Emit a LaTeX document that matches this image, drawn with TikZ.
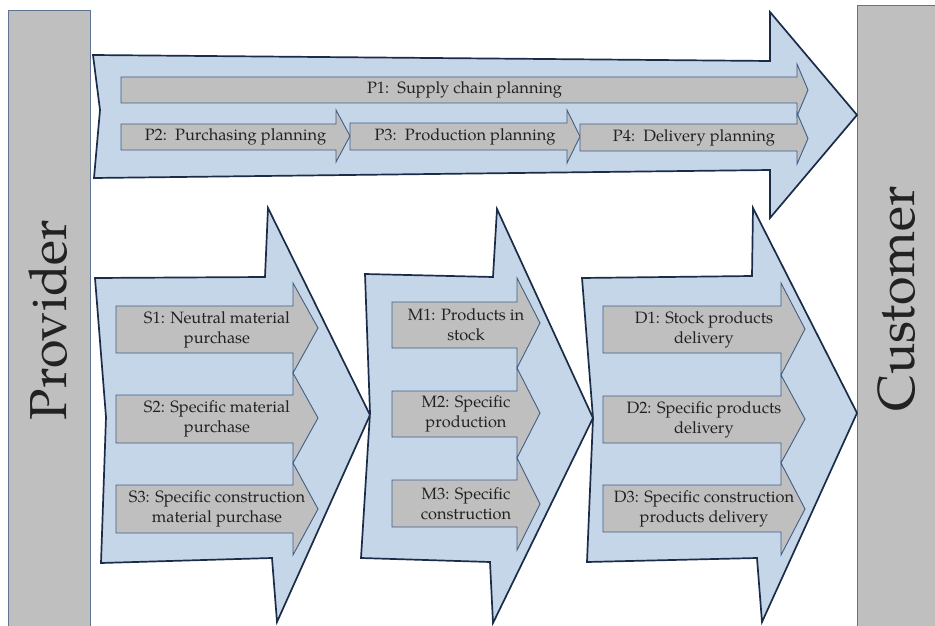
\documentclass[tikz,border=0pt]{standalone}
\usepackage{fontspec}
\setmainfont{TeX Gyre Pagella}

\definecolor{flowfill}{RGB}{198,214,233}
\definecolor{flowedge}{RGB}{26,44,72}
\definecolor{stepfill}{RGB}{191,191,191}
\definecolor{stepedge}{RGB}{66,94,132}
\definecolor{barfill}{RGB}{191,191,191}
\definecolor{baredge}{RGB}{96,116,146}
\definecolor{inktext}{RGB}{34,34,34}

\tikzset{
  flow/.style={fill=flowfill, draw=flowedge, line width=1.7pt, line join=miter},
  stepshape/.style={fill=stepfill, draw=stepedge, line width=0.9pt, line join=miter},
  steptext/.style={font=\fontsize{16.4}{20}\selectfont, align=center, text=inktext, inner sep=0pt},
  bar/.style={fill=barfill, draw=baredge, line width=0.8pt},
  bartext/.style={font=\fontsize{52}{56}\selectfont, rotate=90, text=inktext, inner sep=0pt},
}

% #1 name, #2 left x, #3 head base x, #4 tip x,
% #5 body top y, #6 body bottom y, #7 head top y, #8 head bottom y, #9 label
\newcommand{\procarrow}[9]{%
  \draw[stepshape] (#2,#5) -- (#3,#5) -- (#3,#7) -- (#4,{(#7+#8)/2})
    -- (#3,#8) -- (#3,#6) -- (#2,#6) -- cycle;
  \node[steptext] (#1) at ({(#2+#4)/2},{(#5+#6)/2}) {#9};
}

\begin{document}
\begin{tikzpicture}[x=1pt,y=-1pt]
  \useasboundingbox (0,0) rectangle (935,626);
  \begin{scope}
    \clip (0,0) rectangle (935,626);

    % side bars
    \draw[bar] (8,10) rectangle (90,640);
    \draw[bar] (857,5) rectangle (945,640);
    \node[bartext] (provider) at (48,320) {Provider};
    \node[bartext] (customer) at (897,299) {Customer};

    % planning flow
    \draw[flow] (93,55) -- (770,61) -- (770,12) -- (857,115) -- (770,218)
      -- (770,170) -- (94,178) -- (100,110) -- cycle;

    % execution flows
    \draw[flow] (95,278) -- (265,277) -- (268,208) -- (370,415) -- (277,622)
      -- (272,558) -- (101,563) -- (106,417) -- cycle;
    \draw[flow] (365,274) -- (493,277) -- (497,209) -- (593,418) -- (493,623)
      -- (490,562) -- (361,558) -- (370,413) -- cycle;
    \draw[flow] (582,278) -- (752,276) -- (753,208) -- (857,413) -- (762,622)
      -- (757,558) -- (587,562) -- (593,418) -- cycle;

    % planning steps
    \procarrow{p1}{121}{797}{808}{77}{103}{64}{116}{P1:\enspace Supply chain planning}
    \procarrow{p2}{121}{336}{350}{124}{150}{110}{162}{P2:\enspace Purchasing planning}
    \procarrow{p3}{350}{567}{580}{123}{150}{110}{163}{P3:\enspace Production planning}
    \procarrow{p4}{580}{797}{808}{124}{151}{113}{164}{P4:\enspace Delivery planning}

    % sourcing
    \procarrow{s1}{116}{293}{318}{306}{353}{283}{373}{S1: Neutral material\\purchase}
    \procarrow{s2}{116}{293}{318}{395}{443}{373}{463}{S2: Specific material\\purchase}
    \procarrow{s3}{116}{293}{318}{485}{533}{463}{555}{S3: Specific construction\\material purchase}

    % making
    \procarrow{m1}{392}{517}{540}{302}{348}{278}{368}{M1: Products in\\stock}
    \procarrow{m2}{392}{517}{540}{391}{437}{368}{458}{M2: Specific\\production}
    \procarrow{m3}{392}{517}{540}{480}{527}{458}{550}{M3: Specific\\construction}

    % delivering
    \procarrow{d1}{603}{781}{805}{306}{353}{283}{375}{D1: Stock products\\delivery}
    \procarrow{d2}{603}{781}{805}{396}{443}{375}{463}{D2: Specific products\\delivery}
    \procarrow{d3}{603}{781}{805}{485}{532}{463}{555}{D3: Specific construction\\products delivery}
  \end{scope}
\end{tikzpicture}
\end{document}
